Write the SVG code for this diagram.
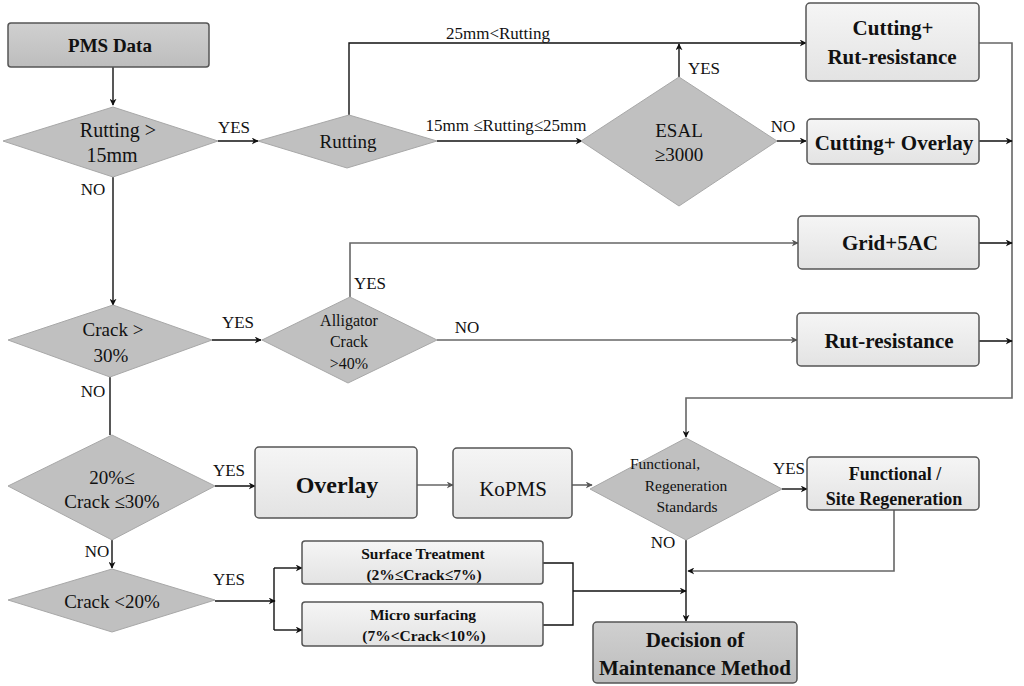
<svg xmlns="http://www.w3.org/2000/svg" width="1024" height="686" viewBox="0 0 1024 686">
<defs>
<linearGradient id="gBox" x1="0" y1="0" x2="0" y2="1"><stop offset="0" stop-color="#f5f5f5"/><stop offset="1" stop-color="#e3e3e3"/></linearGradient>
<linearGradient id="gDark" x1="0" y1="0" x2="0" y2="1"><stop offset="0" stop-color="#d0d0d0"/><stop offset="1" stop-color="#bdbdbd"/></linearGradient>
<marker id="ah" viewBox="0 0 10 10" refX="9" refY="5" markerWidth="7" markerHeight="7" orient="auto" markerUnits="userSpaceOnUse"><path d="M0,0 L10,5 L0,10 L3,5 z" fill="#111"/></marker>
<marker id="ahg" viewBox="0 0 10 10" refX="9" refY="5" markerWidth="7" markerHeight="7" orient="auto" markerUnits="userSpaceOnUse"><path d="M0,0 L10,5 L0,10 L3,5 z" fill="#555"/></marker>
</defs>
<style>
.box{fill:url(#gBox);stroke:#555;stroke-width:1.5}
.dbox{fill:url(#gDark);stroke:#555;stroke-width:1.5}
.dia{fill:#c0c0c0;stroke:#a8a8a8;stroke-width:1}
.c{fill:none;stroke:#111;stroke-width:1.4}
.cg{fill:none;stroke:#666;stroke-width:1.6}
.a{marker-end:url(#ah)}
.ag{marker-end:url(#ahg)}
text{font-family:'Liberation Serif','Times New Roman',Times,'DejaVu Serif',serif;fill:#111;text-anchor:middle}
.b{font-weight:bold}
.lbl{font-size:17px}
</style>
<rect width="1024" height="686" fill="#fff"/>

<g id="connectors">
<path class="c a" d="M113,67 V105"/>
<path class="c a" d="M218,141 H258"/>
<path class="c a" d="M349,115 V43 H806"/>
<path class="c a" d="M437,141 H582"/>
<path class="c a" d="M679,77 V44"/>
<path class="c a" d="M777,141 H806"/>
<path class="cg a" d="M979,43 H1012 V398 H686 V437"/>
<path class="c a" d="M979,141 H1012"/>
<path class="c a" d="M979,243 H1012"/>
<path class="c a" d="M979,341 H1012"/>
<path class="c a" d="M113,177 V305"/>
<path class="c a" d="M212,340 H261"/>
<path class="cg ag" d="M350,297 V243 H798"/>
<path class="cg ag" d="M437,340 H797"/>
<path class="c" d="M110,377 V435"/>
<path class="c a" d="M215,486 H255"/>
<path class="cg ag" d="M417,485 H453"/>
<path class="cg ag" d="M572,485 H592"/>
<path class="c a" d="M782,489 H807"/>
<path class="cg a" d="M894,510 V571 H688"/>
<path class="c a" d="M686,540 V621"/>
<path class="c a" d="M112,540 V568"/>
<path class="c a" d="M215,601 H275"/>
<path class="c" d="M274,568 V630"/>
<path class="c a" d="M274,568 H302"/>
<path class="c a" d="M274,630 H302"/>
<path class="c" d="M543,563 H573 V625 H543"/>
<path class="c a" d="M573,591 H686"/>
<text class="lbl" x="234" y="133">YES</text>
<text class="lbl" x="93" y="195">NO</text>
<text class="lbl" x="498" y="39">25mm&lt;Rutting</text>
<text class="lbl" x="506" y="131">15mm ≤Rutting≤25mm</text>
<text class="lbl" x="704" y="74">YES</text>
<text class="lbl" x="783" y="132">NO</text>
<text class="lbl" x="238" y="328">YES</text>
<text class="lbl" x="370" y="289">YES</text>
<text class="lbl" x="467" y="333">NO</text>
<text class="lbl" x="93" y="397">NO</text>
<text class="lbl" x="229" y="476">YES</text>
<text class="lbl" x="789" y="474">YES</text>
<text class="lbl" x="663" y="548">NO</text>
<text class="lbl" x="97" y="557">NO</text>
<text class="lbl" x="229" y="585">YES</text>
</g>

<g id="pms-data"><rect class="dbox" x="8" y="23" width="201" height="44" rx="3"/><text class="b" x="110" y="52" font-size="19">PMS Data</text></g>

<g id="rutting-15"><polygon class="dia" points="113,107 218,141 113,177 3,141"/><text x="118" y="137" font-size="20">Rutting &gt;</text><text x="112" y="162" font-size="20">15mm</text></g>

<g id="rutting"><polygon class="dia" points="349,115 437,141 347,168 258,141"/><text x="348" y="148" font-size="19">Rutting</text></g>

<g id="esal"><polygon class="dia" points="679,77 777,141 679,206 581,141"/><text x="679" y="137" font-size="19">ESAL</text><text x="679" y="161" font-size="19">≥3000</text></g>

<g id="cutting-rut"><rect class="box" x="806" y="3" width="173" height="78" rx="4"/><text class="b" x="893" y="35" font-size="21">Cutting+</text><text class="b" x="892" y="64" font-size="21">Rut-resistance</text></g>

<g id="cutting-overlay"><rect class="box" x="807" y="119" width="172" height="45" rx="4"/><text class="b" x="894" y="150" font-size="21">Cutting+ Overlay</text></g>

<g id="grid-5ac"><rect class="box" x="798" y="216" width="181" height="53" rx="4"/><text class="b" x="890" y="250" font-size="21">Grid+5AC</text></g>

<g id="rut-resistance"><rect class="box" x="797" y="313" width="182" height="53" rx="4"/><text class="b" x="889" y="348" font-size="21">Rut-resistance</text></g>

<g id="crack-30"><polygon class="dia" points="113,305 212,340 110,377 8,340"/><text x="113" y="336" font-size="19">Crack &gt;</text><text x="111" y="362" font-size="19">30%</text></g>

<g id="alligator"><polygon class="dia" points="350,297 437,340 348,383 262,340"/><text x="349" y="326" font-size="16">Alligator</text><text x="349" y="347" font-size="16">Crack</text><text x="349" y="369" font-size="16">&gt;40%</text></g>

<g id="crack-20-30"><polygon class="dia" points="112,435 215,486 112,540 8,486"/><text x="112" y="484" font-size="19">20%≤</text><text x="112" y="508" font-size="19">Crack ≤30%</text></g>

<g id="overlay"><rect class="box" x="255" y="447" width="162" height="71" rx="4"/><text class="b" x="337" y="493" font-size="24">Overlay</text></g>

<g id="kopms"><rect class="box" x="453" y="448" width="119" height="70" rx="4"/><text x="513" y="496" font-size="21">KoPMS</text></g>

<g id="functional-standards"><polygon class="dia" points="686,438 782,489 686,540 590,489"/><text x="665" y="469" font-size="15.5">Functional,</text><text x="686" y="491" font-size="15.5">Regeneration</text><text x="687" y="512" font-size="15.5">Standards</text></g>

<g id="functional-site"><rect class="box" x="807" y="457" width="172" height="53" rx="4"/><text class="b" x="895" y="480" font-size="18">Functional /</text><text class="b" x="894" y="505" font-size="18">Site Regeneration</text></g>

<g id="crack-20"><polygon class="dia" points="112,569 215,600 112,632 8,600"/><text x="112" y="608" font-size="19">Crack &lt;20%</text></g>

<g id="surface-treatment"><rect class="box" x="302" y="541" width="241" height="43" rx="3"/><text class="b" x="423" y="559" font-size="15.5">Surface Treatment</text><text class="b" x="424" y="580" font-size="15.5">(2%≤Crack≤7%)</text></g>

<g id="micro-surfacing"><rect class="box" x="302" y="602" width="241" height="44" rx="3"/><text class="b" x="423" y="620" font-size="15.5">Micro surfacing</text><text class="b" x="424" y="641" font-size="15.5">(7%&lt;Crack&lt;10%)</text></g>

<g id="decision"><rect class="dbox" x="593" y="622" width="204" height="61" rx="4"/><text class="b" x="695" y="647" font-size="21">Decision of</text><text class="b" x="695" y="675" font-size="21">Maintenance Method</text></g>
</svg>
